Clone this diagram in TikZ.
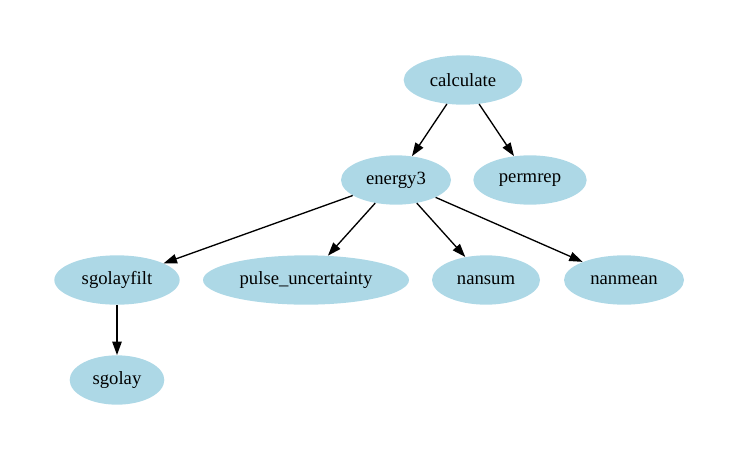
\documentclass[tikz,border=0pt]{standalone}
\usepackage{fontspec}
\setmainfont{Liberation Serif}
\usetikzlibrary{shapes.geometric,arrows.meta}
\definecolor{nodeblue}{RGB}{173,216,230}
\begin{document}
\begin{tikzpicture}[x=0.75pt,y=-0.75pt,
  nd/.style={ellipse,fill=nodeblue,inner sep=0pt,minimum height=37pt,font=\fontsize{14pt}{16pt}\selectfont},
  edge/.style={line width=1pt,-{Triangle[length=10pt,width=7pt]}}]
\useasboundingbox (0,0) rectangle (739,461);
\node[nd,minimum width=89pt] (calculate) at (463,80) {calculate};
\node[nd,minimum width=82.5pt] (energy3) at (396,180) {energy3};
\node[nd,minimum width=85pt] (permrep) at (530,180) {permrep};
\node[nd,minimum width=94pt] (sgolayfilt) at (117,280) {sgolayfilt};
\node[nd,minimum width=154.5pt] (pulse) at (306,280) {pulse\_uncertainty};
\node[nd,minimum width=81pt] (nansum) at (486,280) {nansum};
\node[nd,minimum width=90pt] (nanmean) at (624,280) {nanmean};
\node[nd,minimum width=71pt] (sgolay) at (117,380) {sgolay};
\draw[edge] (calculate) -- (energy3);
\draw[edge] (calculate) -- (permrep);
\draw[edge] (energy3) -- (sgolayfilt);
\draw[edge] (energy3) -- (pulse);
\draw[edge] (energy3) -- (nansum);
\draw[edge] (energy3) -- (nanmean);
\draw[edge] (sgolayfilt) -- (sgolay);
\end{tikzpicture}
\end{document}
